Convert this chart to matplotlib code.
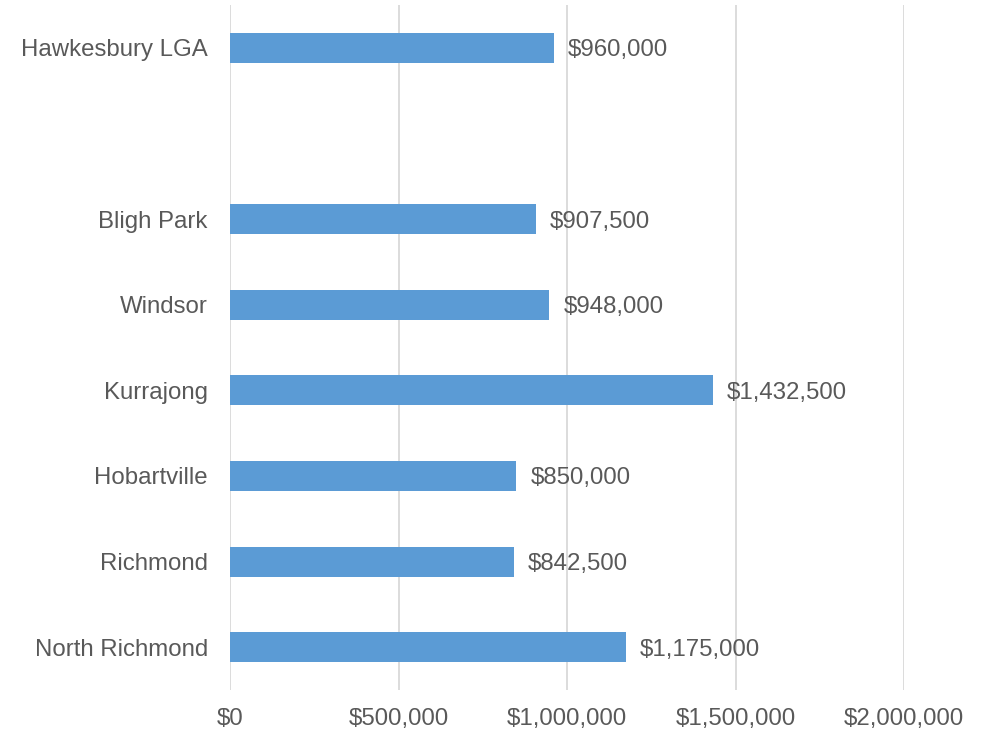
import matplotlib
import matplotlib.pyplot as plt
from matplotlib.ticker import FuncFormatter

matplotlib.use("Agg")

# categories top to bottom; empty string is the blank gap slot
suburbs = ["Hawkesbury LGA", "", "Bligh Park", "Windsor", "Kurrajong",
           "Hobartville", "Richmond", "North Richmond"]
median_price = [960000, None, 907500, 948000, 1432500, 850000, 842500, 1175000]
x_ticks = [0, 500000, 1000000, 1500000, 2000000]

BAR = "#5B9BD5"
TEXT = "#595959"
GRID = "#D9D9D9"
FS = 17.3

plt.rcParams.update({
    "font.family": ["Liberation Sans", "DejaVu Sans"],
    "font.size": FS,
})

fig = plt.figure(figsize=(9.84, 7.33), dpi=100)
ax = fig.add_axes([230 / 984, 1 - 690 / 733, 674 / 984, 685 / 733])

ypos = list(range(len(suburbs)))
for y, v in zip(ypos, median_price):
    if v is None:
        continue
    ax.barh(y, v, height=0.35, color=BAR, zorder=3)
    ax.text(v + 42000, y, f"${v:,.0f}", va="center_baseline", ha="left",
            color=TEXT, fontsize=FS, zorder=4)

ax.set_xlim(0, 2000000)
ax.set_ylim(len(suburbs) - 0.5, -0.5)
ax.set_xticks(x_ticks)
ax.xaxis.set_major_formatter(FuncFormatter(lambda v, _: f"${v:,.0f}"))
ax.set_yticks(ypos)
ax.set_yticklabels(suburbs)

ax.grid(axis="x", color=GRID, linewidth=1.3, zorder=0)
ax.grid(axis="y", visible=False)
for s in ax.spines.values():
    s.set_visible(False)
ax.tick_params(axis="both", length=0, colors=TEXT, labelsize=FS)
ax.tick_params(axis="x", pad=13)
ax.tick_params(axis="y", pad=16)

fig.savefig("out.png", dpi=100, facecolor="white")
